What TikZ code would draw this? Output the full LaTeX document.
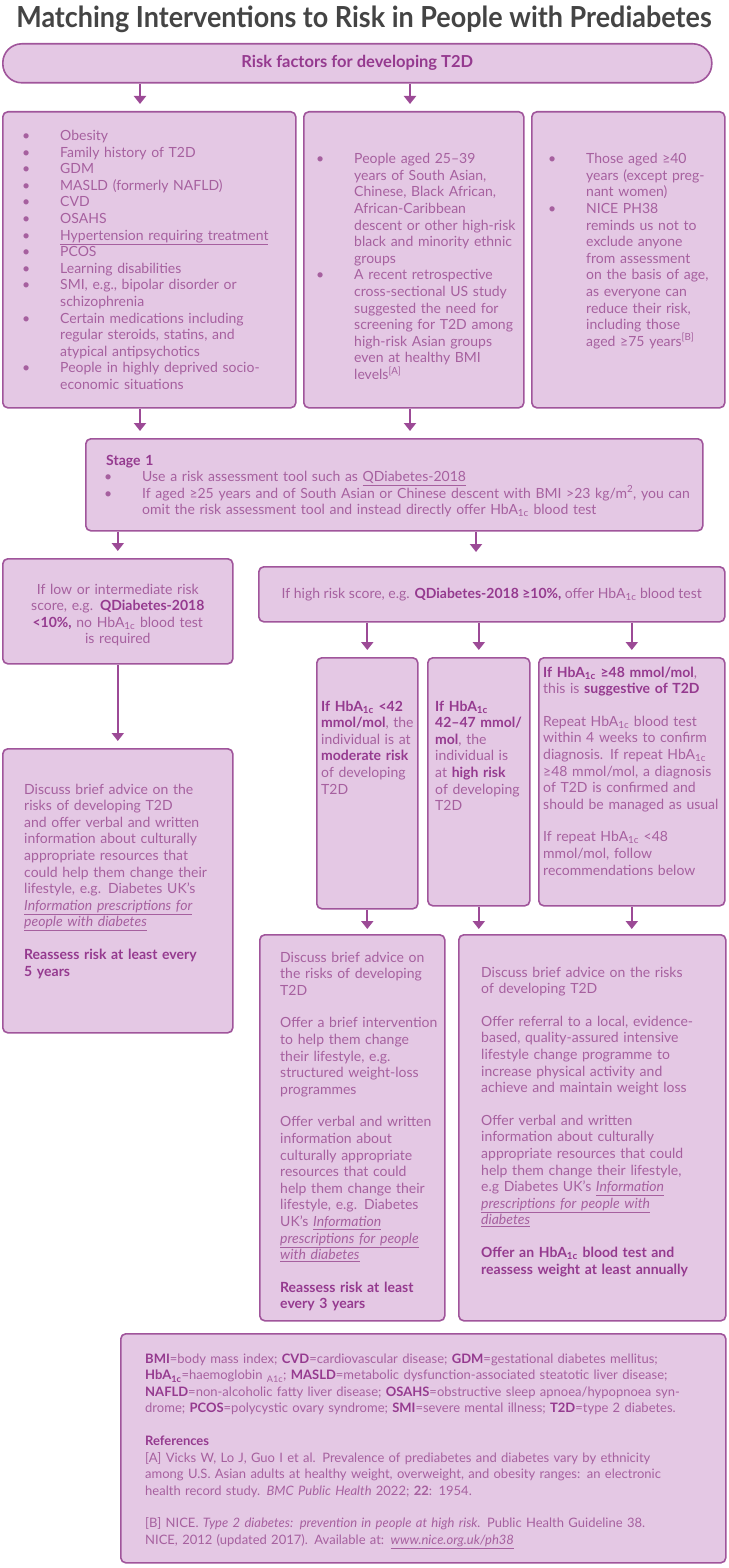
\documentclass[tikz,border=0pt]{standalone}
\usepackage{fontspec}
\setmainfont{Lato}
\usepackage{enumitem}
\usetikzlibrary{arrows.meta}

\definecolor{boxfill}{HTML}{E4C8E4}
\definecolor{boxline}{HTML}{A0559B}
\definecolor{txtc}{HTML}{A6609F}
\definecolor{boldc}{HTML}{953A8F}
\definecolor{arrc}{HTML}{9C4A96}
\definecolor{titlec}{HTML}{444444}

\setlist[itemize]{label=\textbullet, leftmargin=36pt, labelwidth=6pt,
  labelsep=30pt, itemsep=0pt, topsep=0pt, parsep=0pt, partopsep=0pt}

\newcommand\hba{HbA\textsubscript{1c}}
\newcommand\hl[1]{\textbf{\color{boldc}#1}}

\begin{document}
\begin{tikzpicture}[x=1pt, y=-1pt]
  \tikzset{
    panel/.style={draw=boxline, fill=boxfill, line width=1.6pt,
      rounded corners=5pt, anchor=north west, inner sep=0pt},
    txt/.style={text=txtc, inner sep=0pt, align=left, anchor=base west,
      font=\fontsize{14}{16.6}\selectfont},
    arr/.style={draw=arrc, line width=2pt,
      -{Triangle[width=12pt,length=8pt]}, shorten >=7pt},
  }
  \useasboundingbox (0,0) rectangle (728,1568);

  \node[text=titlec, font=\fontsize{29}{31}\selectfont\bfseries] (title) at (364,19)
    {\scalebox{0.93}[1]{Matching Interventions to Risk in People with Prediabetes}};

  % risk factors
  \node[panel, rounded corners=19pt, minimum width=709pt, minimum height=39pt] (top) at (2,43) {};
  \node[txt, anchor=center, font=\fontsize{16.5}{18}\selectfont] (top-t) at (top.center)
    {\hl{Risk factors for developing T2D}};

  \node[panel, minimum width=293pt, minimum height=296pt] (risk-L) at (2,111) {};
  \node[txt, text width=270pt] (risk-L-t) at ([shift={(22,13)}]risk-L.north west) {%
    \begin{itemize}
      \item Obesity
      \item Family history of T2D
      \item GDM
      \item MASLD (formerly NAFLD)
      \item CVD
      \item OSAHS
      \item \underline{Hypertension requiring treatment}
      \item PCOS
      \item Learning disabilities
      \item SMI, e.g., bipolar disorder or\\schizophrenia
      \item Certain medications including\\regular steroids, statins, and\\atypical antipsychotics
      \item People in highly deprived socio-\\economic situations
    \end{itemize}};

  \node[panel, minimum width=220pt, minimum height=296pt] (risk-M) at (303,111) {};
  \node[txt, text width=210pt] (risk-M-t) at ([shift={(15,36)}]risk-M.north west) {%
    \begin{itemize}
      \item People aged 25–39\\years of South Asian,\\Chinese, Black African,\\African-Caribbean\\descent or other high-risk\\black and minority ethnic\\groups
      \item A recent retrospective\\cross-sectional US study\\suggested the need for\\screening for T2D among\\high-risk Asian groups\\even at healthy BMI\\levels\textsuperscript{[A]}
    \end{itemize}};

  \node[panel, minimum width=193pt, minimum height=296pt] (risk-R) at (531,111) {};
  \node[txt, text width=180pt] (risk-R-t) at ([shift={(19,36)}]risk-R.north west) {%
    \begin{itemize}
      \item Those aged ≥40\\years (except preg-\\nant women)
      \item NICE PH38\\reminds us not to\\exclude anyone\\from assessment\\on the basis of age,\\as everyone can\\reduce their risk,\\including those\\aged ≥75 years\textsuperscript{[B]}
    \end{itemize}};

  % stage 1
  \node[panel, minimum width=617pt, minimum height=92pt] (stage) at (85,438) {};
  \node[txt, text width=600pt] (stage-t) at ([shift={(21,27)}]stage.north west) {%
    \hl{Stage 1}
    \begin{itemize}
      \item Use a risk assessment tool such as \underline{QDiabetes-2018}
      \item If aged ≥25 years and of South Asian or Chinese descent with BMI >23 kg/m\textsuperscript{2}, you can\\omit the risk assessment tool and instead directly offer \hba{} blood test
    \end{itemize}};

  % risk score
  \node[panel, minimum width=230pt, minimum height=105pt] (low) at (2,558) {};
  \node[txt, anchor=base, align=center, text width=226pt] (low-t) at ([yshift=-36pt]low.north) {%
    If low or intermediate risk\\score, e.g. \hl{QDiabetes-2018}\\\hl{<10\%,} no \hba{} blood test\\is required};

  \node[panel, minimum width=466pt, minimum height=55pt] (high) at (258,566) {};
  \node[txt, anchor=center] (high-t) at (high.center) {%
    If high risk score, e.g. \hl{QDiabetes-2018 ≥10\%,} offer \hba{} blood test};

  % HbA1c results
  \node[panel, minimum width=101pt, minimum height=251pt] (hA) at (316,657) {};
  \node[txt, text width=96pt] (hA-t) at ([shift={(5,54)}]hA.north west) {%
    \hl{If \hba{} <42}\\\hl{mmol/mol}, the\\individual is at\\\hl{moderate risk}\\of developing\\T2D};

  \node[panel, minimum width=102pt, minimum height=248pt] (hB) at (427,657) {};
  \node[txt, text width=96pt] (hB-t) at ([shift={(8,54)}]hB.north west) {%
    \hl{If \hba}\\\hl{42–47 mmol/}\\\hl{mol}, the\\individual is\\at \hl{high risk}\\of developing\\T2D};

  \node[panel, minimum width=186pt, minimum height=248pt] (hC) at (538,657) {};
  \node[txt, text width=185pt] (hC-t) at ([shift={(5,20)}]hC.north west) {%
    \hl{If \hba{} ≥48 mmol/mol},\\this is \hl{suggestive of T2D}\\[16pt]
    Repeat \hba{} blood test\\within 4 weeks to confirm\\diagnosis. If repeat \hba\\≥48 mmol/mol, a diagnosis\\of T2D is confirmed and\\should be managed as usual\\[16pt]
    If repeat \hba{} <48\\mmol/mol, follow\\recommendations below};

  % advice
  \node[panel, minimum width=230pt, minimum height=284pt] (low2) at (2,748) {};
  \node[txt, text width=220pt] (low2-t) at ([shift={(22,46)}]low2.north west) {%
    Discuss brief advice on the\\risks of developing T2D\\and offer verbal and written\\information about culturally\\appropriate resources that\\could help them change their\\lifestyle, e.g. Diabetes UK’s\\\underline{\textit{Information prescriptions for}}\\\underline{\textit{people with diabetes}}\\[16pt]
    \hl{Reassess risk at least every}\\\hl{5 years}};

  \node[panel, minimum width=185pt, minimum height=386pt] (adv-D) at (259,934) {};
  \node[txt, text width=180pt] (adv-D-t) at ([shift={(21,28)}]adv-D.north west) {%
    Discuss brief advice on\\the risks of developing\\T2D\\[16pt]
    Offer a brief intervention\\to help them change\\their lifestyle, e.g.\\structured weight-loss\\programmes\\[16pt]
    Offer verbal and written\\information about\\culturally appropriate\\resources that could\\help them change their\\lifestyle, e.g. Diabetes\\UK’s \underline{\textit{Information}}\\\underline{\textit{prescriptions for people}}\\\underline{\textit{with diabetes}}\\[16pt]
    \hl{Reassess risk at least}\\\hl{every 3 years}};

  \node[panel, minimum width=267pt, minimum height=386pt] (adv-E) at (458,934) {};
  \node[txt, text width=260pt] (adv-E-t) at ([shift={(23,43)}]adv-E.north west) {%
    Discuss brief advice on the risks\\of developing T2D\\[16pt]
    Offer referral to a local, evidence-\\based, quality-assured intensive\\lifestyle change programme to\\increase physical activity and\\achieve and maintain weight loss\\[16pt]
    Offer verbal and written\\information about culturally\\appropriate resources that could\\help them change their lifestyle,\\e.g Diabetes UK’s \underline{\textit{Information}}\\\underline{\textit{prescriptions for people with}}\\\underline{\textit{diabetes}}\\[16pt]
    \hl{Offer an \hba{} blood test and}\\\hl{reassess weight at least annually}};

  % abbreviations and references
  \node[panel, minimum width=605pt, minimum height=229pt] (foot) at (120,1333) {};
  \node[txt, text width=600pt, font=\fontsize{13}{16.6}\selectfont] (foot-t) at ([shift={(25,30)}]foot.north west) {%
    \hl{BMI}=body mass index; \hl{CVD}=cardiovascular disease; \hl{GDM}=gestational diabetes mellitus;\\
    \hl{\hba}=haemoglobin \textsubscript{A1c}; \hl{MASLD}=metabolic dysfunction-associated steatotic liver disease;\\
    \hl{NAFLD}=non-alcoholic fatty liver disease; \hl{OSAHS}=obstructive sleep apnoea/hypopnoea syn-\\
    drome; \hl{PCOS}=polycystic ovary syndrome; \hl{SMI}=severe mental illness; \hl{T2D}=type 2 diabetes.\\[16pt]
    \hl{References}\\\relax
    [A] Vicks W, Lo J, Guo I et al. Prevalence of prediabetes and diabetes vary by ethnicity\\
    among U.S. Asian adults at healthy weight, overweight, and obesity ranges: an electronic\\
    health record study. \textit{BMC Public Health} 2022; \textbf{22}: 1954.\\[16pt]
    [B] NICE. \textit{Type 2 diabetes: prevention in people at high risk.} Public Health Guideline 38.\\
    NICE, 2012 (updated 2017). Available at: \underline{\textit{www.nice.org.uk/ph38}}};

  % connectors
  \coordinate (xa) at (140,0);
  \coordinate (xb) at (410,0);
  \coordinate (xd) at (476,0);
  \draw[arr] (top.south -| xa) -- (risk-L.north -| xa);
  \draw[arr] (top.south -| xb) -- (risk-M.north -| xb);
  \draw[arr] (risk-L.south -| xa) -- (stage.north -| xa);
  \draw[arr] (risk-M.south -| xb) -- (stage.north -| xb);
  \draw[arr] (stage.south -| low.north) -- (low.north);
  \draw[arr, shorten >=14pt] (stage.south -| xd) -- (high.north -| xd);
  \draw[arr] (low.south) -- (low2.north);
  \foreach \n in {hA,hB,hC}
    \draw[arr] (high.south -| \n.north) -- (\n.north);
  \foreach \a/\b in {hA/adv-D,hB/adv-E,hC/adv-E}
    \draw[arr, shorten >=5pt] (\a.south) -- (\b.north -| \a.south);
\end{tikzpicture}
\end{document}
